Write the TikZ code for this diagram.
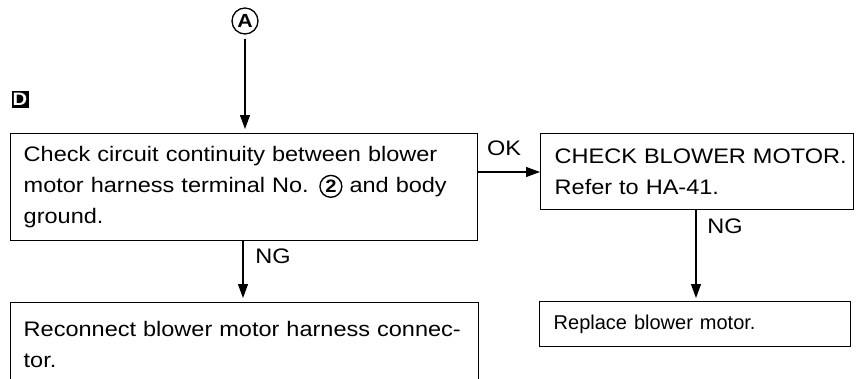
\documentclass[tikz,border=0pt]{standalone}
\usepackage{fontspec}
\setmainfont{Liberation Sans}[FakeStretch=1.12]
\newfontfamily\plainfont{Liberation Sans}
\usetikzlibrary{arrows.meta}
\newcommand{\circnum}[1]{\tikz[baseline=(cn.base),x=1pt,y=1pt]\node[draw,circle,line width=1.4pt,inner sep=1.8pt,minimum width=0pt,minimum height=0pt,text width=,align=center,anchor=center,font=\fontsize{18}{18}\selectfont\bfseries] (cn) {#1};}
\tikzset{
  box/.style={draw, line width=1.4pt, rectangle, anchor=north west, align=left,
    inner xsep=13pt, inner ysep=0pt, font=\fontsize{21}{31}\selectfont},
  conn/.style={line width=1.1pt, -{Triangle[length=14pt,width=10pt]}},
  lbl/.style={font=\fontsize{21}{21}\selectfont, inner sep=0pt},
}
\begin{document}
\begin{tikzpicture}[x=1pt,y=-1pt]
\useasboundingbox (0,0) rectangle (857,378);
\clip (0,0) rectangle (857,378);
% marker A
\node[draw, circle, line width=1.3pt, minimum size=26pt, inner sep=0pt, font=\fontsize{19}{19}\selectfont\bfseries] (A) at (245,21) {A};
% marker D
\node[fill=black, text=white, minimum size=17pt, inner sep=0pt, font=\fontsize{18}{18}\selectfont\bfseries] (D) at (20,99) {D};
% boxes
\node[box, minimum width=467pt, minimum height=107pt, text width=441pt] (b1) at (10,133)
  {\mbox{Check circuit continuity between blower}\\\mbox{motor harness terminal No. \circnum{2} and body}\\ground.};
\node[box, minimum width=311pt, minimum height=76pt, text width=285pt, inner xsep=14pt] (b2) at (540,133)
  {\mbox{CHECK BLOWER MOTOR.}\\\mbox{Refer to HA-41.}};
\node[box, minimum width=311pt, minimum height=45pt, text width=283pt, inner xsep=14pt] (b3) at (539,301)
  {\mbox{\plainfont\fontsize{20}{31}\selectfont Replace blower motor.}};
\node[box, minimum width=468pt, minimum height=83pt, text width=442pt] (b4) at (10,302)
  {\mbox{Reconnect blower motor harness connec-}\\tor.};
% connectors
\coordinate (a1) at (245,129);
\draw[conn] (A.south) ++(0,4) -- (a1);
\coordinate (ok1) at (b1.east |- 0,172);
\coordinate (ok2) at (b2.west |- 0,172);
\draw[conn] (ok1) -- (ok2);
\node[lbl] (okl) at (504,148) {OK};
\coordinate (n1s) at (243,240);
\coordinate (n1e) at (243,298);
\draw[conn] (n1s) -- (n1e);
\node[lbl] (ng1) at (273,256) {NG};
\coordinate (n2s) at (696,209);
\coordinate (n2e) at (696,298);
\draw[conn] (n2s) -- (n2e);
\node[lbl] (ng2) at (725,226) {NG};
\end{tikzpicture}
\end{document}
